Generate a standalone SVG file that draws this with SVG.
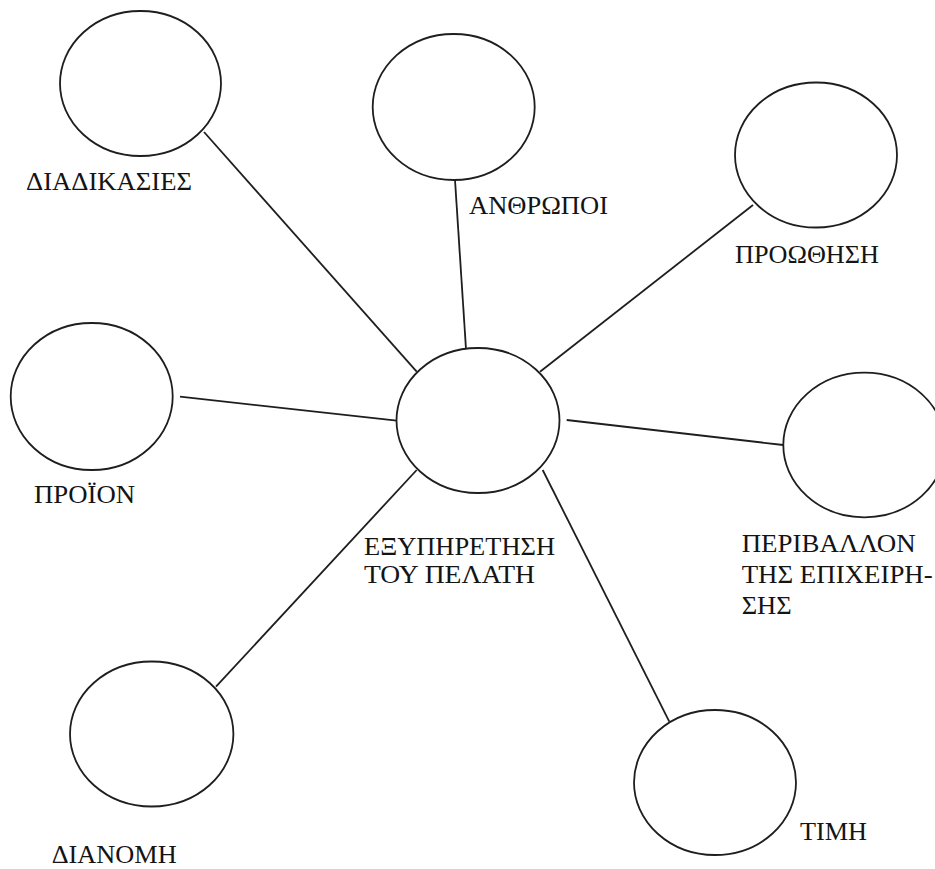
<svg xmlns="http://www.w3.org/2000/svg" width="935" height="869" viewBox="0 0 935 869">
<style>
.n{fill:#fff;stroke:#1e1e1e;stroke-width:1.8}
.c line{stroke:#1e1e1e;stroke-width:1.8}
text{font-family:"Liberation Serif","Times New Roman",serif;font-size:25px;fill:#141414}
</style>
<rect width="935" height="869" fill="#fff"/>
<g class="c" id="connectors">
<line x1="204" y1="132" x2="416.7" y2="371.7"/>
<line x1="455" y1="180" x2="466" y2="349"/>
<line x1="753" y1="205" x2="540" y2="371.7"/>
<line x1="180" y1="396.7" x2="396.7" y2="420.7"/>
<line x1="566.7" y1="420" x2="783.3" y2="445"/>
<line x1="416.7" y1="470" x2="216" y2="686.7"/>
<line x1="542.7" y1="470" x2="669.3" y2="721.7"/>
</g>
<g id="node-diadikasies"><ellipse class="n" cx="140.5" cy="83.5" rx="80.5" ry="72.5"/><text x="26" y="190" textLength="166" lengthAdjust="spacingAndGlyphs">ΔΙΑΔΙΚΑΣΙΕΣ</text></g>
<g id="node-anthropoi"><ellipse class="n" cx="453.7" cy="107" rx="81" ry="73"/><text x="469" y="214" textLength="139" lengthAdjust="spacingAndGlyphs">ΑΝΘΡΩΠΟΙ</text></g>
<g id="node-proothisi"><ellipse class="n" cx="816" cy="155" rx="81" ry="72.5"/><text x="735" y="263" textLength="144" lengthAdjust="spacingAndGlyphs">ΠΡΟΩΘΗΣΗ</text></g>
<g id="node-proion"><ellipse class="n" cx="91.7" cy="396.5" rx="81" ry="73.5"/><text x="34" y="503" textLength="101" lengthAdjust="spacingAndGlyphs">ΠΡΟΪΟΝ</text></g>
<g id="node-center"><ellipse class="n" cx="478" cy="420.5" rx="81.5" ry="72.5"/><text x="364" y="555" textLength="191" lengthAdjust="spacingAndGlyphs">ΕΞΥΠΗΡΕΤΗΣΗ</text><text x="364" y="583" textLength="171" lengthAdjust="spacingAndGlyphs">ΤΟΥ ΠΕΛΑΤΗ</text></g>
<g id="node-perivallon"><ellipse class="n" cx="864.3" cy="445" rx="81" ry="72.3"/><text x="741.7" y="552" textLength="174" lengthAdjust="spacingAndGlyphs">ΠΕΡΙΒΑΛΛΟΝ</text><text x="741.7" y="583" textLength="191" lengthAdjust="spacingAndGlyphs">ΤΗΣ ΕΠΙΧΕΙΡΗ-</text><text x="741.7" y="614" textLength="50" lengthAdjust="spacingAndGlyphs">ΣΗΣ</text></g>
<g id="node-dianomi"><ellipse class="n" cx="151.7" cy="734" rx="81.7" ry="72.5"/><text x="51.7" y="863" textLength="125" lengthAdjust="spacingAndGlyphs">ΔΙΑΝΟΜΗ</text></g>
<g id="node-timi"><ellipse class="n" cx="715" cy="782.5" rx="81" ry="72.5"/><text x="800" y="840" textLength="67" lengthAdjust="spacingAndGlyphs">ΤΙΜΗ</text></g>
</svg>
